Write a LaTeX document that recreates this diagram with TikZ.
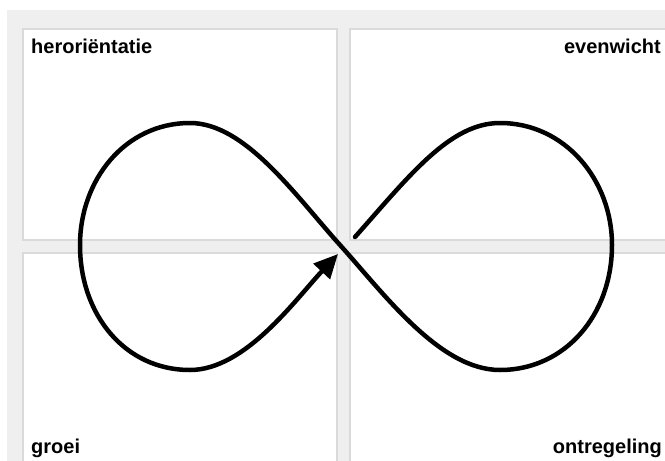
\documentclass[tikz,border=0pt]{standalone}
\usepackage{fontspec}
\setmainfont{Liberation Sans}
\usetikzlibrary{arrows.meta}
\definecolor{bggrey}{HTML}{EFEFEF}
\definecolor{panelline}{HTML}{DADADA}
\begin{document}
\begin{tikzpicture}[x=1pt,y=-1pt,
  panel/.style={fill=white,draw=panelline,line width=1.2pt},
  lbl/.style={font=\fontsize{20}{24}\selectfont\bfseries,inner sep=0pt},
  loop/.style={line width=4.5pt,line cap=round,line join=round}]
\useasboundingbox (0,0) rectangle (665,461);
\fill[white] (0,0) rectangle (665,461);
\fill[bggrey] (7,10) rectangle (665,461);
\draw[panel] (23,29) rectangle (337,240);
\draw[panel] (350,29) rectangle (670,240);
\draw[panel] (23,253) rectangle (337,470);
\draw[panel] (350,253) rectangle (670,470);
\node[lbl,anchor=base west] (t1) at (31,53) {heroriëntatie};
\node[lbl,anchor=base east] (t2) at (661,53) {evenwicht};
\node[lbl,anchor=base west] (t3) at (31,453) {groei};
\node[lbl,anchor=base east] (t4) at (662,453) {ontregeling};
\coordinate (A) at (355,237);
\coordinate (TR) at (500,123);
\coordinate (R) at (612,245);
\coordinate (BR) at (500,370);
\coordinate (C) at (340,245);
\coordinate (TL) at (190,123);
\coordinate (L) at (80,245);
\coordinate (BL) at (190,370);
\coordinate (E) at (338,254);
\draw[loop,-{Triangle[length=24pt,width=22pt]}]
  (A) .. controls (410,175) and (450,123) .. (TR)
      .. controls (565,123) and (612,180) .. (R)
      .. controls (612,315) and (565,370) .. (BR)
      .. controls (440,370) and (385,295) .. (C)
      .. controls (295,195) and (245,123) .. (TL)
      .. controls (125,123) and (80,180) .. (L)
      .. controls (80,315) and (125,370) .. (BL)
      .. controls (245,370) and (295,300) .. (E);
\end{tikzpicture}
\end{document}
